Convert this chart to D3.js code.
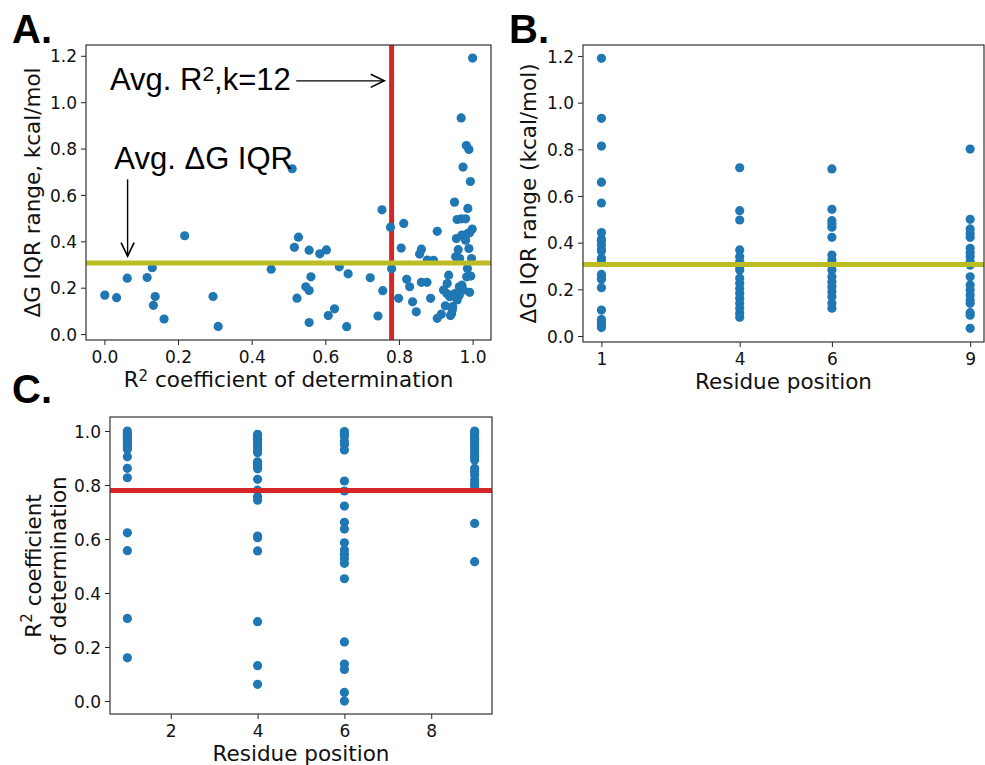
<!DOCTYPE html>
<html>
<head>
<meta charset="utf-8">
<script src="https://cdn.jsdelivr.net/npm/d3@7/dist/d3.min.js"></script>
<style>
  html, body { margin: 0; padding: 0; background: #fff; }
  svg { display: block; }
</style>
</head>
<body>
<script>
// ---------------- DATA ----------------
// Panel A: R^2 (x) vs ΔG IQR range (y)
const r2A = [0.001,0.033,0.062,0.116,0.130,0.138,0.133,0.162,0.218,0.295,0.309,0.453,0.510,0.527,0.516,0.556,0.585,0.603,0.561,0.547,0.556,0.523,0.556,0.608,0.625,0.638,0.662,0.658,0.722,0.743,0.756,0.754,0.777,0.780,0.813,0.806,0.799,0.821,0.829,0.837,0.847,0.861,0.856,0.861,0.876,0.877,0.894,0.904,0.886,0.904,0.915,0.926,0.921,0.931,0.935,0.930,0.938,0.943,0.946,0.951,0.958,0.981,0.969,0.983,0.990,0.974,0.994,0.987,1.000,0.956,0.971,0.987,0.999,0.961,0.990,0.954,0.965,0.997,0.986,0.964,0.971,0.995,0.984,0.992,0.975,0.958,0.952,0.964,0.981,0.969,0.992,0.945,0.940];
const iqrA = [0.168,0.157,0.241,0.244,0.286,0.162,0.124,0.065,0.424,0.162,0.033,0.280,0.713,0.418,0.374,0.362,0.346,0.363,0.247,0.204,0.188,0.155,0.050,0.080,0.109,0.290,0.260,0.032,0.243,0.078,0.187,0.536,0.461,0.282,0.477,0.371,0.154,0.236,0.204,0.139,0.096,0.366,0.345,0.223,0.223,0.319,0.318,0.443,0.154,0.068,0.086,0.122,0.190,0.218,0.254,0.175,0.161,0.089,0.118,0.569,0.494,0.497,0.932,0.813,0.796,0.720,0.658,0.542,1.190,0.412,0.427,0.434,0.453,0.364,0.369,0.333,0.326,0.326,0.283,0.204,0.211,0.250,0.247,0.180,0.190,0.147,0.175,0.168,0.405,0.497,0.437,0.105,0.080];

// Residue positions
const positions = [1, 4, 6, 9];

// Panel B: ΔG IQR range per residue position
const iqrPos1 = [1.19,0.933,0.814,0.659,0.570,0.443,0.416,0.407,0.390,0.371,0.364,0.333,0.326,0.264,0.250,0.243,0.207,0.111,0.071,0.059,0.044,0.036];
const iqrPos4 = [0.721,0.537,0.497,0.369,0.340,0.318,0.297,0.283,0.247,0.226,0.204,0.183,0.162,0.140,0.119,0.097,0.080];
const iqrPos6 = [0.716,0.543,0.494,0.480,0.466,0.423,0.347,0.326,0.304,0.283,0.254,0.233,0.211,0.190,0.168,0.140,0.119];
const iqrPos9 = [0.801,0.500,0.459,0.440,0.423,0.376,0.357,0.340,0.318,0.304,0.254,0.219,0.197,0.176,0.154,0.140,0.100,0.089,0.033];

// Panel C: R^2 per residue position
const r2Pos1 = [1.0,0.991,0.985,0.979,0.973,0.967,0.958,0.949,0.942,0.933,0.905,0.862,0.827,0.623,0.557,0.306,0.160];
const r2Pos4 = [0.988,0.979,0.970,0.960,0.952,0.942,0.930,0.920,0.886,0.877,0.868,0.860,0.821,0.781,0.757,0.744,0.611,0.605,0.556,0.294,0.131,0.062];
const r2Pos6 = [0.998,0.988,0.979,0.960,0.949,0.930,0.815,0.778,0.722,0.662,0.637,0.586,0.559,0.544,0.528,0.510,0.453,0.219,0.137,0.117,0.032,0.0];
const r2Pos9 = [1.0,0.994,0.988,0.979,0.970,0.960,0.951,0.942,0.930,0.917,0.905,0.893,0.862,0.849,0.837,0.819,0.806,0.796,0.658,0.516];

// Reference lines
const avgR2 = 0.78;
const avgIQR = 0.306;

// Tick values
const ticksA_x = [0.0, 0.2, 0.4, 0.6, 0.8, 1.0];
const ticksA_y = [0.0, 0.2, 0.4, 0.6, 0.8, 1.0, 1.2];
const ticksB_x = [1, 4, 6, 9];
const ticksB_y = [0.0, 0.2, 0.4, 0.6, 0.8, 1.0, 1.2];
const ticksC_x = [2, 4, 6, 8];
const ticksC_y = [0.0, 0.2, 0.4, 0.6, 0.8, 1.0];

// ---------------- DRAW ----------------
const BLUE = "#1f77b4", RED = "#d62728", OLIVE = "#bcbd22";
const TICK_FONT = "'DejaVu Sans', sans-serif";
const ANN_FONT = "'Liberation Sans', Arial, sans-serif";
const LABEL_SIZE = 21.5;

const svg = d3.select("body").append("svg")
  .attr("width", 985).attr("height", 765)
  .style("background", "#fff");

function makePanel(box, xDomain, yDomain, xTicks, yTicks, xFmt) {
  const xs = d3.scaleLinear().domain(xDomain).range([box.l, box.r]);
  const ys = d3.scaleLinear().domain(yDomain).range([box.b, box.t]);
  const g = svg.append("g");
  const clipId = "clip" + Math.round(box.l) + "_" + Math.round(box.t);
  svg.append("clipPath").attr("id", clipId)
    .append("rect").attr("x", box.l).attr("y", box.t)
    .attr("width", box.r - box.l).attr("height", box.b - box.t);
  const plot = g.append("g").attr("clip-path", `url(#${clipId})`);
  const xAxis = d3.axisBottom(xs).tickValues(xTicks).tickFormat(xFmt).tickSize(5).tickPadding(4);
  const yAxis = d3.axisLeft(ys).tickValues(yTicks).tickFormat(d3.format(".1f")).tickSize(5).tickPadding(4);
  const gx = g.append("g").attr("transform", `translate(0,${box.b})`).call(xAxis);
  const gy = g.append("g").attr("transform", `translate(${box.l},0)`).call(yAxis);
  [gx, gy].forEach(a => {
    a.select(".domain").remove();
    a.selectAll(".tick line").attr("stroke", "#222").attr("stroke-width", 1);
    a.selectAll(".tick text").attr("font-family", TICK_FONT).attr("font-size", 17).attr("fill", "#111");
  });
  gx.selectAll(".tick text").attr("dy", "0.85em");
  gy.selectAll(".tick text").attr("dy", "0.36em");
  return { g, plot, xs, ys, box };
}

function frame(p) {
  const b = p.box;
  p.g.append("rect").attr("x", b.l).attr("y", b.t)
    .attr("width", b.r - b.l).attr("height", b.b - b.t)
    .attr("fill", "none").attr("stroke", "#333").attr("stroke-width", 1.2);
}

function dots(p, xsArr, ysArr) {
  p.plot.selectAll(null).data(d3.zip(xsArr, ysArr)).enter().append("circle")
    .attr("cx", d => p.xs(d[0])).attr("cy", d => p.ys(d[1]))
    .attr("r", 4.6).attr("fill", BLUE);
}
function hline(p, v, color) {
  p.plot.append("line").attr("x1", p.box.l).attr("x2", p.box.r)
    .attr("y1", p.ys(v)).attr("y2", p.ys(v))
    .attr("stroke", color).attr("stroke-width", 5);
}
function vline(p, v, color) {
  p.plot.append("line").attr("y1", p.box.t).attr("y2", p.box.b)
    .attr("x1", p.xs(v)).attr("x2", p.xs(v))
    .attr("stroke", color).attr("stroke-width", 5);
}

function xLabel(p, parts, yOff) {
  const t = svg.append("text").attr("x", (p.box.l + p.box.r) / 2).attr("y", p.box.b + yOff)
    .attr("text-anchor", "middle").attr("font-family", TICK_FONT).attr("font-size", LABEL_SIZE).attr("fill", "#111");
  parts.forEach(pt => {
    const ts = t.append("tspan").text(pt.t);
    if (pt.sup) ts.attr("font-size", 15).attr("baseline-shift", "40%");
  });
}
function yLabel(cx, cy, parts) {
  const t = svg.append("text").attr("transform", `translate(${cx},${cy}) rotate(-90)`)
    .attr("text-anchor", "middle").attr("dominant-baseline", "central")
    .attr("font-family", TICK_FONT).attr("font-size", LABEL_SIZE).attr("fill", "#111");
  parts.forEach(pt => {
    const ts = t.append("tspan").text(pt.t);
    if (pt.sup) ts.attr("font-size", 15).attr("baseline-shift", "40%");
  });
}
function panelLetter(x, y, s) {
  svg.append("text").attr("x", x).attr("y", y).text(s)
    .attr("font-family", ANN_FONT).attr("font-weight", "bold").attr("font-size", 40).attr("fill", "#000");
}

// ----- Panel A -----
const A = makePanel({ l: 86, r: 491, t: 45, b: 340 }, [-0.05, 1.05], [-0.0255, 1.2465],
  ticksA_x, ticksA_y, d3.format(".1f"));
vline(A, avgR2, RED);
dots(A, r2A, iqrA);
hline(A, avgIQR, OLIVE);
frame(A);

// Annotations (data coordinates)
const annText1 = { x: 0.015, y: 1.052 };
const annArrow1 = { x1: 0.521, y1: 1.092, x2: 0.760, y2: 1.092 };
const annText2 = { x: 0.027, y: 0.71 };
const annArrow2 = { x1: 0.063, y1: 0.667, x2: 0.063, y2: 0.336 };

const t1 = svg.append("text").attr("x", A.xs(annText1.x)).attr("y", A.ys(annText1.y))
  .attr("font-family", ANN_FONT).attr("font-size", 31).attr("fill", "#000");
t1.append("tspan").text("Avg. R");
t1.append("tspan").text("2").attr("font-size", 21).attr("baseline-shift", "45%");
t1.append("tspan").text(",k=12");

svg.append("text").attr("x", A.xs(annText2.x)).attr("y", A.ys(annText2.y))
  .attr("font-family", ANN_FONT).attr("font-size", 31).attr("fill", "#000")
  .text("Avg. ΔG IQR");

function arrow(x1, y1, x2, y2) {
  svg.append("line").attr("x1", x1).attr("y1", y1).attr("x2", x2).attr("y2", y2)
    .attr("stroke", "#000").attr("stroke-width", 1.4);
  const ang = Math.atan2(y2 - y1, x2 - x1);
  const L = 15, W = 0.45;
  const pa = [x2 - L * Math.cos(ang - W), y2 - L * Math.sin(ang - W)];
  const pb = [x2 - L * Math.cos(ang + W), y2 - L * Math.sin(ang + W)];
  svg.append("path").attr("d", `M${pa[0]},${pa[1]}L${x2},${y2}L${pb[0]},${pb[1]}`)
    .attr("fill", "none").attr("stroke", "#000").attr("stroke-width", 1.6);
}
arrow(A.xs(annArrow1.x1), A.ys(annArrow1.y1), A.xs(annArrow1.x2), A.ys(annArrow1.y2));
arrow(A.xs(annArrow2.x1), A.ys(annArrow2.y1), A.xs(annArrow2.x2), A.ys(annArrow2.y2));

xLabel(A, [{ t: "R" }, { t: "2", sup: true }, { t: " coefficient of determination" }], 47);
yLabel(32, (A.box.t + A.box.b) / 2, [{ t: "ΔG IQR range, kcal/mol" }]);

// ----- Panel B -----
const B = makePanel({ l: 583, r: 984, t: 45, b: 342 }, [0.6, 9.3], [-0.0257, 1.247],
  ticksB_x, ticksB_y, d3.format("d"));
const iqrByPos = [iqrPos1, iqrPos4, iqrPos6, iqrPos9];
positions.forEach((pos, i) => dots(B, iqrByPos[i].map(() => pos), iqrByPos[i]));
hline(B, avgIQR, OLIVE);
frame(B);
xLabel(B, [{ t: "Residue position" }], 47);
yLabel(528, (B.box.t + B.box.b) / 2, [{ t: "ΔG IQR range (kcal/mol)" }]);

// ----- Panel C -----
const C = makePanel({ l: 110, r: 492, t: 417, b: 714 }, [0.6, 9.4], [-0.048, 1.052],
  ticksC_x, ticksC_y, d3.format("d"));
const r2ByPos = [r2Pos1, r2Pos4, r2Pos6, r2Pos9];
positions.forEach((pos, i) => dots(C, r2ByPos[i].map(() => pos), r2ByPos[i]));
hline(C, avgR2, RED);
frame(C);
xLabel(C, [{ t: "Residue position" }], 47);
yLabel(33, 566, [{ t: "R" }, { t: "2", sup: true }, { t: " coefficient" }]);
yLabel(58, 566, [{ t: "of determination" }]);

// Panel letters
panelLetter(12, 43, "A.");
panelLetter(509, 43, "B.");
panelLetter(12, 403, "C.");
</script>
</body>
</html>
